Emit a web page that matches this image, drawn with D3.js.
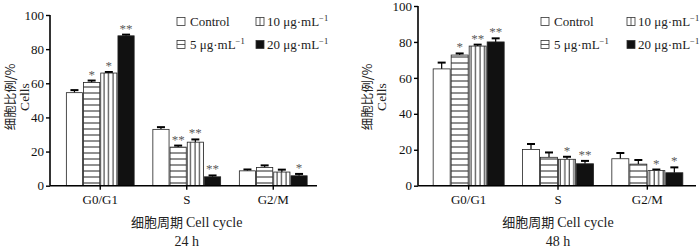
<!DOCTYPE html>
<html>
<head>
<meta charset="utf-8">
<script src="https://cdn.jsdelivr.net/npm/d3@7"></script>
<style>
body { margin: 0; background: #fff; }
text { font-family: "Liberation Serif", "Times New Roman", serif; }
.cn { font-family: "Noto Sans CJK SC", sans-serif; }
</style>
</head>
<body>
<div id="chart"></div>
<script>
var w = 700;
var h = 248;

var phases = ["G0/G1", "S", "G2/M"];
var doses = ["Control", "5", "10", "20"];

// 24 h
var mean24 = [[54.5, 60.4, 66.0, 87.8], [33.0, 22.6, 25.5, 5.2], [8.7, 10.7, 8.0, 5.8]];
var err24 = [[1.5, 1.2, 0.6, 0.7], [1.3, 0.9, 1.6, 0.8], [0.8, 1.2, 1.4, 1.1]];
var sig24 = [["", "*", "*", "**"], ["", "**", "**", "**"], ["", "", "", "*"]];

// 48 h
var mean48 = [[65.0, 72.7, 77.7, 80.0], [20.2, 15.8, 14.7, 12.2], [15.0, 12.0, 8.4, 7.2]];
var err48 = [[3.5, 0.9, 0.8, 2.0], [3.0, 2.7, 1.4, 1.6], [3.2, 2.3, 0.6, 3.0]];
var sig48 = [["", "*", "**", "**"], ["", "", "*", "**"], ["", "", "*", "*"]];

var yTicks = [0, 20, 40, 60, 80, 100];

var svg = d3.select("#chart").append("svg").attr("width", w).attr("height", h);

var defs = svg.append("defs");
var ph = defs.append("pattern").attr("id", "hstripe")
    .attr("patternUnits", "userSpaceOnUse").attr("width", 10).attr("height", 6);
ph.append("rect").attr("width", 10).attr("height", 6).attr("fill", "#fff");
ph.append("line").attr("x1", 0).attr("x2", 10).attr("y1", 3).attr("y2", 3)
    .attr("stroke", "#222").attr("stroke-width", 1);
var pv = defs.append("pattern").attr("id", "vstripe")
    .attr("patternUnits", "userSpaceOnUse").attr("width", 4.5).attr("height", 10);
pv.append("rect").attr("width", 4.5).attr("height", 10).attr("fill", "#fff");
pv.append("line").attr("x1", 2).attr("x2", 2).attr("y1", 0).attr("y2", 10)
    .attr("stroke", "#222").attr("stroke-width", 1);

var fills = ["#fff", "url(#hstripe)", "url(#vstripe)", "#111"];

function panel(cfg, means, errs, sigs, title) {
    var g = svg.append("g");

    var yScale = d3.scaleLinear().domain([0, 100]).range([cfg.y0, cfg.y100]);
    var xScale = d3.scaleBand().domain(phases).range([cfg.x0, cfg.x1]).paddingInner(0).paddingOuter(0);
    var inner = d3.scaleBand().domain(doses)
        .range([(xScale.bandwidth() - cfg.bar * 4) / 2, (xScale.bandwidth() + cfg.bar * 4) / 2]);

    phases.forEach(function (p, i) {
        var gg = g.append("g").attr("transform", "translate(" + xScale(p) + ",0)");
        doses.forEach(function (d, j) {
            var x = inner(d), bw = inner.bandwidth();
            var top = yScale(means[i][j]);
            var etop = yScale(means[i][j] + errs[i][j]);
            var cx = x + bw / 2;
            // error bar
            gg.append("line").attr("x1", cx).attr("x2", cx).attr("y1", top).attr("y2", etop)
                .attr("stroke", "#000").attr("stroke-width", 1.2);
            gg.append("line").attr("x1", cx - 4).attr("x2", cx + 4).attr("y1", etop).attr("y2", etop)
                .attr("stroke", "#000").attr("stroke-width", 2);
            gg.append("rect")
                .attr("x", x + 0.5).attr("y", top)
                .attr("width", bw - 1).attr("height", yScale(0) - top)
                .attr("fill", fills[j]).attr("stroke", "#222").attr("stroke-width", 0.8);
            if (sigs[i][j]) {
                gg.append("text").attr("x", cx).attr("y", etop - 2)
                    .attr("text-anchor", "middle").attr("font-size", 13).attr("fill", "#5a5a5a")
                    .text(sigs[i][j]);
            }
        });
    });

    // axes
    var yAxis = d3.axisLeft(yScale).tickValues(yTicks).tickSize(4).tickPadding(2);
    var ya = g.append("g").attr("transform", "translate(" + cfg.ax + ",0)").call(yAxis);
    ya.selectAll("text").attr("font-size", 13).attr("fill", "#111")
        .style("font-family", "'Liberation Serif', serif");
    ya.select(".domain").attr("stroke-width", 1.6).attr("d", "M0," + cfg.y0 + "V" + cfg.y100);
    ya.selectAll("line").attr("stroke-width", 1.4);

    var xAxis = d3.axisBottom(xScale).tickSize(4).tickPadding(5);
    var xa = g.append("g").attr("transform", "translate(0," + cfg.y0 + ")").call(xAxis);
    xa.selectAll("text").attr("font-size", 13).attr("fill", "#111")
        .style("font-family", "'Liberation Serif', serif");
    xa.select(".domain").attr("stroke-width", 1.6).attr("d", "M" + cfg.ax + ",0H" + cfg.axEnd);
    xa.selectAll("line").attr("stroke-width", 1.4);

    // y title
    var yt = g.append("text")
        .attr("transform", "translate(" + cfg.yt + "," + 97 + ") rotate(-90)")
        .attr("text-anchor", "middle").attr("font-size", 12.5).attr("fill", "#222");
    yt.append("tspan").attr("class", "cn").attr("x", 0).attr("dy", 0).text("细胞比例/%");
    yt.append("tspan").attr("x", 0).attr("dy", 14).attr("font-size", 13.5).text("Cells");

    // x title
    var xm = (cfg.x0 + cfg.x1) / 2;
    var xt = g.append("text").attr("x", xm).attr("y", 227)
        .attr("text-anchor", "middle").attr("font-size", 14).attr("fill", "#222");
    xt.append("tspan").attr("class", "cn").attr("font-size", 13).text("细胞周期 ");
    xt.append("tspan").text("Cell cycle");
    g.append("text").attr("x", xm).attr("y", 246).attr("text-anchor", "middle")
        .attr("font-size", 14).attr("fill", "#222").text(title);

    // legend
    var lx = [cfg.lx, cfg.lx2];
    var ly = [cfg.ly, cfg.ly + 23];
    var pos = [[0, 0], [0, 1], [1, 0], [1, 1]];
    doses.forEach(function (d, j) {
        var x = lx[pos[j][0]], y = ly[pos[j][1]];
        g.append("rect").attr("x", x).attr("y", y - 8.5).attr("width", 8).attr("height", 8)
            .attr("fill", j == 3 ? "#111" : "#fff").attr("stroke", "#333").attr("stroke-width", 0.8);
        if (j == 1) g.append("line").attr("x1", x).attr("x2", x + 8).attr("y1", y - 4.5).attr("y2", y - 4.5)
            .attr("stroke", "#333").attr("stroke-width", 0.8);
        if (j == 2) g.append("line").attr("x1", x + 4).attr("x2", x + 4).attr("y1", y - 8.5).attr("y2", y - 0.5)
            .attr("stroke", "#333").attr("stroke-width", 0.8);
        var t = g.append("text").attr("x", x + (j == 2 || j == 3 ? 11 : 13)).attr("y", y)
            .attr("font-size", 13).attr("fill", "#222");
        if (j == 0) t.text("Control");
        else {
            t.append("tspan").text(d + " μg·mL");
            t.append("tspan").attr("font-size", 8.5).attr("dy", -5.5).text("−1");
        }
    });
}

panel({ x0: 57, x1: 316.5, ax: 50, axEnd: 317, y0: 185.7, y100: 15, bar: 17.2,
        yt: 14.5, lx: 177, lx2: 256, ly: 26 },
      mean24, err24, sig24, "24 h");
panel({ x0: 424, x1: 692, ax: 418, axEnd: 696, y0: 185.7, y100: 6, bar: 18,
        yt: 372, lx: 541, lx2: 627, ly: 26 },
      mean48, err48, sig48, "48 h");
</script>
</body>
</html>
